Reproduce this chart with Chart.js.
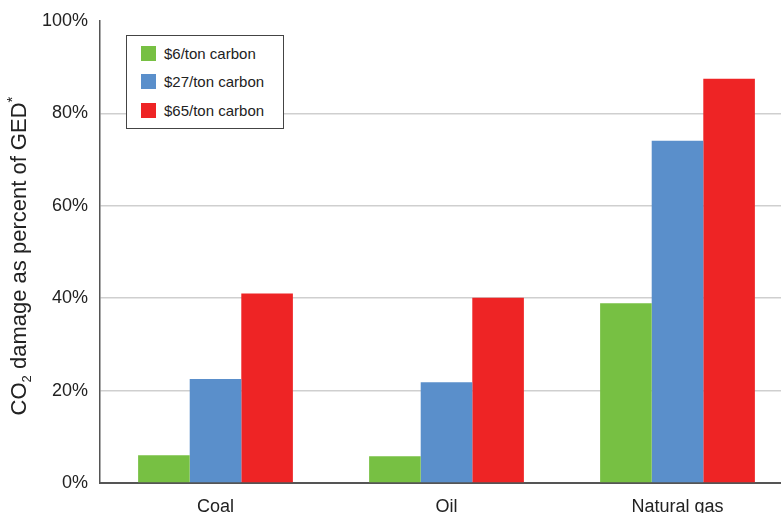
<!DOCTYPE html>
<html>
<head>
<meta charset="utf-8">
<script src="https://cdn.jsdelivr.net/npm/chart.js@4"></script>
<style>
  html, body { margin: 0; padding: 0; background: #fff; overflow: hidden; }
  #wrap { position: relative; width: 793px; height: 513px; }
  #legend {
    position: absolute; left: 126px; top: 35px; width: 158px; height: 94px;
    border: 1px solid #444; background: #fff; box-sizing: border-box;
    font-family: "Liberation Sans", Arial, sans-serif; font-size: 15px; color: #222;
    padding-top: 3px;
  }
  #legend .row { display: flex; align-items: center; height: 28.5px; padding-left: 14px; }
  #legend .sw { width: 15px; height: 15px; margin-right: 8px; }
</style>
</head>
<body>
<div id="wrap">
  <canvas id="co2Chart" width="793" height="513"></canvas>
  <div id="legend"></div>
</div>
<script>
const categories = ['Coal', 'Oil', 'Natural gas'];
const seriesNames = ['$6/ton carbon', '$27/ton carbon', '$65/ton carbon'];
const low = [6.0, 5.8, 38.9];
const mid = [22.5, 21.8, 74.1];
const high = [41.0, 40.1, 87.5];
const colors = ['#77c043', '#5a8fcb', '#ee2425'];
const yTicks = [0, 20, 40, 60, 80, 100];

const font = '"Liberation Sans", Arial, sans-serif';

// y-axis title with subscript 2 and superscript *
const yTitle = {
    id: 'yTitle',
    afterDraw(chart) {
        const c = chart.ctx;
        const area = chart.chartArea;
        const parts = [
            { t: 'CO', size: 22, dy: 0 },
            { t: '2', size: 13, dy: 5 },
            { t: ' damage as percent of GED', size: 22, dy: 0 },
            { t: '*', size: 15, dy: -9 }
        ];
        c.save();
        let total = 0;
        parts.forEach(p => { c.font = p.size + 'px ' + font; p.w = c.measureText(p.t).width; total += p.w; });
        c.translate(26, (area.top + area.bottom) / 2 + 4);
        c.rotate(-Math.PI / 2);
        c.fillStyle = '#222';
        c.textBaseline = 'alphabetic';
        let x = -total / 2;
        parts.forEach(p => {
            c.font = p.size + 'px ' + font;
            c.fillText(p.t, x, p.dy);
            x += p.w;
        });
        c.restore();
    }
};

const ctx = document.getElementById('co2Chart').getContext('2d');
const co2Chart = new Chart(ctx, {
    type: 'bar',
    data: {
        labels: categories,
        datasets: [low, mid, high].map((d, i) => ({
            label: seriesNames[i],
            data: d,
            backgroundColor: colors[i],
            borderWidth: 0,
            categoryPercentage: 0.67,
            barPercentage: 1.0
        }))
    },
    options: {
        responsive: false,
        animation: false,
        layout: { padding: { top: 14, right: 0, left: 0, bottom: 0 } },
        plugins: { legend: { display: false }, tooltip: { enabled: false } },
        scales: {
            x: {
                grid: { display: false, drawTicks: false },
                border: { color: '#555', width: 2 },
                ticks: { font: { family: font, size: 18 }, color: '#222', padding: 13 },
                afterFit(s) { s.height = 30; }
            },
            y: {
                min: 0,
                max: 100,
                afterBuildTicks(s) { s.ticks = yTicks.map(v => ({ value: v })); },
                grid: {
                    drawTicks: false,
                    color: c => c.tick && c.tick.value === 100 ? 'rgba(0,0,0,0)' : '#cfcfcf',
                    lineWidth: 1.5
                },
                border: { color: '#555', width: 1.5 },
                ticks: {
                    font: { family: font, size: 18, lineHeight: 1.0 },
                    color: '#222',
                    padding: 12,
                    callback: v => v + '%'
                },
                afterFit(s) { s.width = 100; }
            }
        }
    },
    plugins: [yTitle]
});

// legend built from the series arrays
const legend = document.getElementById('legend');
seriesNames.forEach((name, i) => {
    const row = document.createElement('div');
    row.className = 'row';
    row.innerHTML = '<span class="sw" style="background:' + colors[i] + '"></span>' + name;
    legend.appendChild(row);
});
</script>
</body>
</html>
